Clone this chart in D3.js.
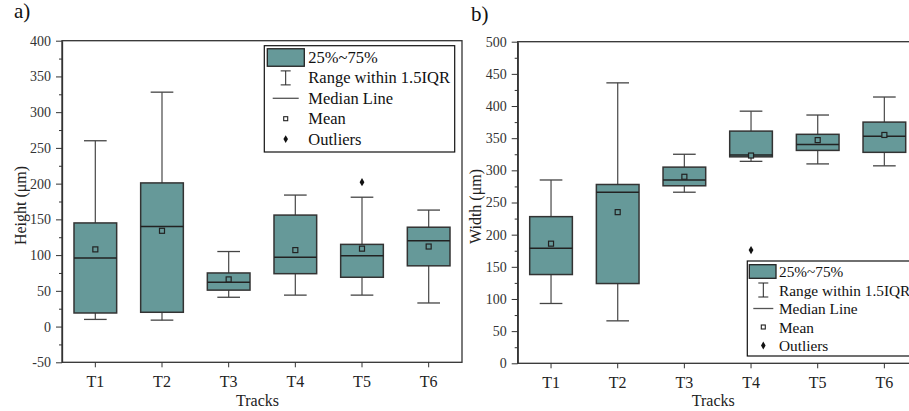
<!DOCTYPE html>
<html>
<head>
<meta charset="utf-8">
<script src="https://cdn.jsdelivr.net/npm/d3@7"></script>
<style>
  body { margin: 0; background: #fff; }
  svg { display: block; }
</style>
</head>
<body>
<script>
// categories
const tracks = ["T1", "T2", "T3", "T4", "T5", "T6"];

// a) height (µm)
const heightLow    = [10, 9, 41, 44, 44, 33];
const heightQ1     = [19, 20, 51, 74, 69, 85];
const heightMedian = [96, 140, 62, 97, 99, 120];
const heightQ3     = [145, 201, 75, 156, 115, 139];
const heightHigh   = [260, 328, 105, 184, 181, 163];
const heightMean   = [108, 134, 66, 107, 109, 112];
const heightOutliers = [["T5", 202]];

// b) width (µm)
const widthLow    = [93, 66, 266, 314, 310, 307];
const widthQ1     = [138, 124, 276, 321, 331, 328];
const widthMedian = [179, 266, 285, 324, 340, 353];
const widthQ3     = [228, 278, 305, 361, 356, 375];
const widthHigh   = [285, 436, 325, 392, 386, 414];
const widthMean   = [186, 235, 290, 323, 347, 355];
const widthOutliers = [["T4", 176]];

const legendLabels = ["25%~75%", "Range within 1.5IQR", "Median Line", "Mean", "Outliers"];

const fontFamily = '"Liberation Serif", "Times New Roman", serif';
const boxFill = "#669999";

const svg = d3.select("body").append("svg")
    .attr("width", 909)
    .attr("height", 411)
    .attr("font-family", fontFamily);

function drawPanel(p) {
    const x = d3.scaleBand()
        .domain(tracks)
        .range([p.left, p.right]);

    const y = d3.scaleLinear()
        .domain(p.domain)
        .range([p.bottom, p.top]);

    const g = svg.append("g");

    // frame
    g.append("rect")
        .attr("x", p.left)
        .attr("y", p.top)
        .attr("width", p.right - p.left)
        .attr("height", p.bottom - p.top)
        .attr("fill", "none")
        .attr("stroke", "#333")
        .attr("stroke-width", 1.3);

    // minor ticks
    const minor = d3.range(p.domain[0] + p.step / 2, p.domain[1], p.step);
    g.append("g")
        .attr("transform", `translate(${p.left},0)`)
        .call(d3.axisLeft(y).tickValues(minor).tickSize(3).tickSizeOuter(0).tickFormat(""))
        .call(a => a.select(".domain").remove())
        .selectAll("line").attr("stroke", "#333");

    // y axis
    const yAxis = g.append("g")
        .attr("transform", `translate(${p.left},0)`)
        .call(d3.axisLeft(y)
            .tickValues(d3.range(p.domain[0], p.domain[1] + 1, p.step))
            .tickFormat(d => String(d))
            .tickSize(6).tickSizeOuter(0).tickPadding(5))
        .attr("font-family", fontFamily)
        .attr("font-size", 14);
    yAxis.select(".domain").attr("stroke", "#333").attr("stroke-width", 1.3);
    yAxis.selectAll("line").attr("stroke", "#333");
    yAxis.selectAll("text").attr("fill", "#333");

    // x axis
    const xAxis = g.append("g")
        .attr("transform", `translate(0,${p.bottom})`)
        .call(d3.axisBottom(x).tickSize(5).tickSizeOuter(0).tickPadding(8))
        .attr("font-family", fontFamily)
        .attr("font-size", 16);
    xAxis.select(".domain").remove();
    xAxis.selectAll("line").attr("stroke", "#333");
    xAxis.selectAll("text").attr("fill", "#222");

    const bw = x.bandwidth();
    const boxW = bw * 0.64;
    const capW = bw * 0.34;

    tracks.forEach((t, i) => {
        const cx = x(t) + bw / 2;
        const b = g.append("g");

        // whiskers
        b.append("line")
            .attr("x1", cx).attr("x2", cx)
            .attr("y1", y(p.low[i])).attr("y2", y(p.q1[i]))
            .attr("stroke", "#555").attr("stroke-width", 1.3);
        b.append("line")
            .attr("x1", cx).attr("x2", cx)
            .attr("y1", y(p.q3[i])).attr("y2", y(p.high[i]))
            .attr("stroke", "#555").attr("stroke-width", 1.3);
        [p.low[i], p.high[i]].forEach(v => {
            b.append("line")
                .attr("x1", cx - capW / 2).attr("x2", cx + capW / 2)
                .attr("y1", y(v)).attr("y2", y(v))
                .attr("stroke", "#444").attr("stroke-width", 1.3);
        });

        // box
        b.append("rect")
            .attr("x", cx - boxW / 2)
            .attr("y", y(p.q3[i]))
            .attr("width", boxW)
            .attr("height", y(p.q1[i]) - y(p.q3[i]))
            .attr("fill", boxFill)
            .attr("stroke", "#333")
            .attr("stroke-width", 1.5);

        // median
        b.append("line")
            .attr("x1", cx - boxW / 2).attr("x2", cx + boxW / 2)
            .attr("y1", y(p.median[i])).attr("y2", y(p.median[i]))
            .attr("stroke", "#222").attr("stroke-width", 1.5);

        // mean
        b.append("rect")
            .attr("x", cx - 2.5).attr("y", y(p.mean[i]) - 2.5)
            .attr("width", 5).attr("height", 5)
            .attr("fill", boxFill)
            .attr("stroke", "#222").attr("stroke-width", 1.2);
    });

    // outliers
    p.outliers.forEach(o => {
        g.append("path")
            .attr("d", d3.symbol(d3.symbolDiamond, 20)())
            .attr("transform", `translate(${x(o[0]) + bw / 2},${y(o[1])})`)
            .attr("fill", "#111");
    });

    // axis titles
    g.append("text")
        .attr("transform", `translate(${p.yLabelX},${(p.top + p.bottom) / 2 + 4}) rotate(-90)`)
        .attr("text-anchor", "middle")
        .attr("dominant-baseline", "central")
        .attr("fill", "#222")
        .attr("font-size", 16)
        .text(p.yLabel);

    g.append("text")
        .attr("x", p.tracksX)
        .attr("y", 405.5)
        .attr("text-anchor", "middle")
        .attr("fill", "#222")
        .attr("font-size", 16)
        .text("Tracks");

    // panel label
    g.append("text")
        .attr("x", p.tagX)
        .attr("y", p.tagY)
        .attr("fill", "#111")
        .attr("font-size", 21)
        .text(p.tag);

    // legend
    const L = p.legend;
    const lg = g.append("g");
    lg.append("rect")
        .attr("x", L.x).attr("y", L.y)
        .attr("width", L.w).attr("height", L.h)
        .attr("fill", "#fff")
        .attr("stroke", "#111")
        .attr("stroke-width", 1.2);

    legendLabels.forEach((label, i) => {
        const ry = L.row0 + i * L.rowGap;
        const sx = L.symX;
        if (i === 0) {
            lg.append("rect")
                .attr("x", L.swatch[0]).attr("y", ry - L.swatch[2] / 2)
                .attr("width", L.swatch[1] - L.swatch[0]).attr("height", L.swatch[2])
                .attr("fill", boxFill)
                .attr("stroke", "#222").attr("stroke-width", 1.3);
        } else if (i === 1) {
            const hh = 7;
            lg.append("line").attr("x1", sx).attr("x2", sx)
                .attr("y1", ry - hh).attr("y2", ry + hh)
                .attr("stroke", "#222");
            [ry - hh, ry + hh].forEach(yy => {
                lg.append("line").attr("x1", sx - 5).attr("x2", sx + 5)
                    .attr("y1", yy).attr("y2", yy).attr("stroke", "#222");
            });
        } else if (i === 2) {
            lg.append("line").attr("x1", sx - L.lineHalf).attr("x2", sx + L.lineHalf)
                .attr("y1", ry).attr("y2", ry).attr("stroke", "#555").attr("stroke-width", 1.3);
        } else if (i === 3) {
            lg.append("rect").attr("x", sx - 2).attr("y", ry - 2)
                .attr("width", 4).attr("height", 4)
                .attr("fill", "#fff").attr("stroke", "#222").attr("stroke-width", 1.1);
        } else {
            lg.append("path")
                .attr("d", d3.symbol(d3.symbolDiamond, 18)())
                .attr("transform", `translate(${sx},${ry})`)
                .attr("fill", "#111");
        }
        lg.append("text")
            .attr("x", L.textX)
            .attr("y", ry)
            .attr("dominant-baseline", "central")
            .attr("fill", "#111")
            .attr("font-size", L.font)
            .text(label);
    });
}

drawPanel({
    left: 62, right: 462, top: 40.7, bottom: 362.3,
    domain: [-50, 400], step: 50,
    low: heightLow, q1: heightQ1, median: heightMedian, q3: heightQ3,
    high: heightHigh, mean: heightMean, outliers: heightOutliers,
    yLabel: "Height (μm)", yLabelX: 20, tracksX: 257.5,
    tag: "a)", tagX: 14, tagY: 18,
    legend: {
        x: 264.3, y: 45.7, w: 190.4, h: 106.3,
        row0: 57.5, rowGap: 20.4, symX: 285.7, lineHalf: 13,
        swatch: [267.3, 304.3, 17.5], textX: 308.3, font: 16.5
    }
});

drawPanel({
    left: 517.7, right: 917.7, top: 41.7, bottom: 363.3,
    domain: [0, 500], step: 50,
    low: widthLow, q1: widthQ1, median: widthMedian, q3: widthQ3,
    high: widthHigh, mean: widthMean, outliers: widthOutliers,
    yLabel: "Width (μm)", yLabelX: 475, tracksX: 713.3,
    tag: "b)", tagX: 471, tagY: 21,
    legend: {
        x: 747.3, y: 261, w: 165, h: 95,
        row0: 271.5, rowGap: 18.5, symX: 763.3, lineHalf: 10,
        swatch: [749.3, 776, 13.6], textX: 779, font: 15.3
    }
});
</script>
</body>
</html>
